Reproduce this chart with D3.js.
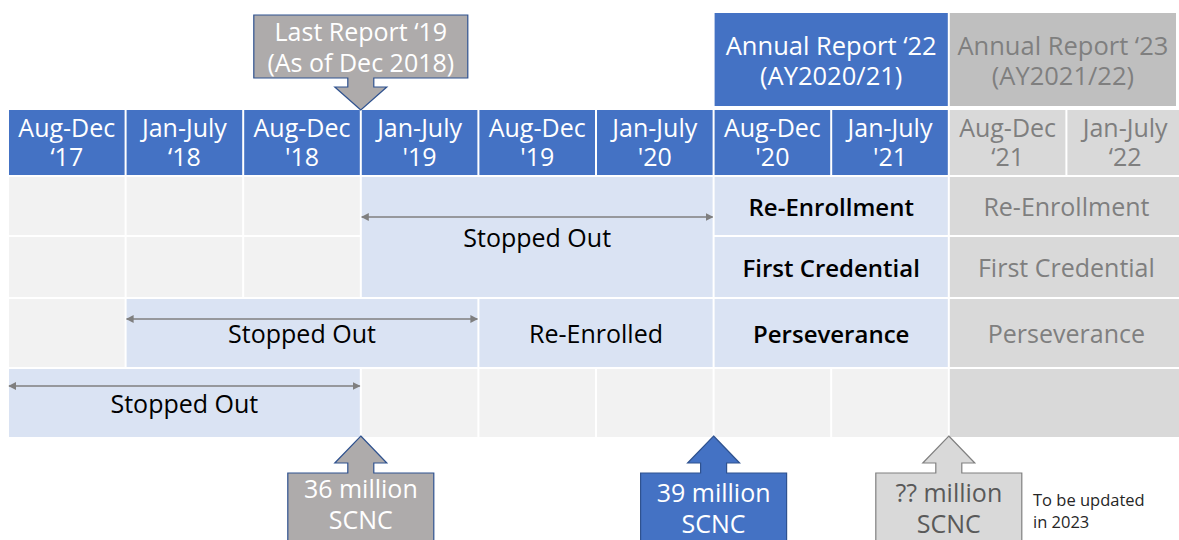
<!DOCTYPE html>
<html>
<head>
<meta charset="utf-8">
<script src="https://d3js.org/d3.v7.min.js"></script>
<style>
  body { margin: 0; background: #fff; }
  svg { display: block; font-family: "Open Sans", sans-serif; }
</style>
</head>
<body>
<script>
// periods along the timeline
var periodNames = ["Aug-Dec", "Jan-July", "Aug-Dec", "Jan-July", "Aug-Dec", "Jan-July", "Aug-Dec", "Jan-July", "Aug-Dec", "Jan-July"];
var periodYears = ["\u201817", "\u201818", "'18", "'19", "'19", "'20", "'20", "'21", "\u201821", "\u201822"];
var periodStatus = ["past", "past", "past", "past", "past", "past", "past", "past", "future", "future"];

// report banners above the header: [first period, last period, status, line 1, line 2]
var reports = [
  [6, 7, "past", "Annual Report \u201822", "(AY2020/21)"],
  [8, 9, "future", "Annual Report \u201823", "(AY2021/22)"]
];

// body cells: [first row, last row, first period, last period, kind, label]
var cells = [
  [0, 0, 0, 0, "base", ""],
  [0, 0, 1, 1, "base", ""],
  [0, 0, 2, 2, "base", ""],
  [0, 1, 3, 5, "gap", "Stopped Out"],
  [0, 0, 6, 7, "measure", "Re-Enrollment"],
  [0, 0, 8, 9, "future", "Re-Enrollment"],
  [1, 1, 0, 0, "base", ""],
  [1, 1, 1, 1, "base", ""],
  [1, 1, 2, 2, "base", ""],
  [1, 1, 6, 7, "measure", "First Credential"],
  [1, 1, 8, 9, "future", "First Credential"],
  [2, 2, 0, 0, "base", ""],
  [2, 2, 1, 3, "gap", "Stopped Out"],
  [2, 2, 4, 5, "span", "Re-Enrolled"],
  [2, 2, 6, 7, "measure", "Perseverance"],
  [2, 2, 8, 9, "future", "Perseverance"],
  [3, 3, 0, 2, "gap", "Stopped Out"],
  [3, 3, 3, 3, "base", ""],
  [3, 3, 4, 4, "base", ""],
  [3, 3, 5, 5, "base", ""],
  [3, 3, 6, 6, "base", ""],
  [3, 3, 7, 7, "base", ""],
  [3, 3, 8, 9, "future", ""]
];

// callouts: [period boundary, direction, status, line 1, line 2]
var callouts = [
  [3, "down", "old", "Last Report \u201819", "(As of Dec 2018)"],
  [3, "up", "old", "36 million", "SCNC"],
  [6, "up", "past", "39 million", "SCNC"],
  [8, "up", "future", "?? million", "SCNC"]
];
var footNote = ["To be updated", "in 2023"];

var width = 1179, height = 540;
var headerTop = 110, headerBottom = 176;
var rowEdges = [176, 236, 298, 368, 438];
var arrowRise = [20, 17, 14, 17];   // how far a span arrow sits above the text, by the span's top row

var colors = {
  blue: "#4472C4", lightBlue: "#DAE3F3", base: "#F2F2F2",
  future: "#D9D9D9", futureBanner: "#BFBFBF", futureText: "#7F7F7F",
  oldCallout: "#AEABAB", outline: "#2F528F", arrow: "#7F7F7F"
};

var svg = d3.select("body").append("svg")
    .attr("width", width)
    .attr("height", height);

var defs = svg.append("defs");
defs.append("marker")
    .attr("id", "head")
    .attr("viewBox", "0 0 10 10")
    .attr("refX", 9).attr("refY", 5)
    .attr("markerWidth", 6).attr("markerHeight", 6)
    .attr("orient", "auto-start-reverse")
  .append("path")
    .attr("d", "M0,0L10,5L0,10Z")
    .attr("fill", colors.arrow);

var x = d3.scaleBand()
    .domain(d3.range(periodNames.length))
    .range([8, 1184])
    .paddingInner(0);

function left(i) { return x(i); }
function right(i) { return x(i) + x.bandwidth(); }

// report banners
var banner = svg.selectAll(".banner")
    .data(reports)
    .enter().append("g")
    .attr("class", "banner");

banner.append("rect")
    .attr("x", function (d) { return left(d[0]) + 1; })
    .attr("y", 13)
    .attr("width", function (d) { return Math.min(right(d[1]), 1177) - left(d[0]) - 2; })
    .attr("height", 93)
    .attr("fill", function (d) { return d[2] === "future" ? colors.futureBanner : colors.blue; });

banner.each(function (d) {
  var cx = (left(d[0]) + Math.min(right(d[1]), 1177)) / 2;
  var t = d3.select(this).append("text")
      .attr("text-anchor", "middle")
      .attr("font-size", 25.5)
      .attr("fill", d[2] === "future" ? colors.futureText : "#fff");
  t.append("tspan").attr("x", cx).attr("y", 55).text(d[3]);
  t.append("tspan").attr("x", cx).attr("y", 85).text(d[4]);
});

// header row
var header = svg.selectAll(".period")
    .data(periodNames.map(function (n, i) { return [n, periodYears[i], periodStatus[i], i]; }))
    .enter().append("g")
    .attr("class", "period");

header.append("rect")
    .attr("x", function (d) { return left(d[3]) + 1; })
    .attr("y", headerTop)
    .attr("width", x.bandwidth() - 2)
    .attr("height", headerBottom - headerTop - 1)
    .attr("fill", function (d) { return d[2] === "future" ? colors.future : colors.blue; });

header.append("text")
    .attr("text-anchor", "middle")
    .attr("font-size", 25)
    .attr("fill", function (d) { return d[2] === "future" ? colors.futureText : "#fff"; })
    .each(function (d) {
      var cx = left(d[3]) + x.bandwidth() / 2;
      d3.select(this).append("tspan").attr("x", cx).attr("y", 137).text(d[0]);
      d3.select(this).append("tspan").attr("x", cx).attr("y", 166).text(d[1]);
    });

// body cells
var fills = { base: colors.base, gap: colors.lightBlue, span: colors.lightBlue, measure: colors.lightBlue, future: colors.future };

var cell = svg.selectAll(".cell")
    .data(cells)
    .enter().append("g")
    .attr("class", "cell");

cell.append("rect")
    .attr("x", function (d) { return left(d[2]) + 1; })
    .attr("y", function (d) { return rowEdges[d[0]] + 1; })
    .attr("width", function (d) { return right(d[3]) - left(d[2]) - 2; })
    .attr("height", function (d) { return rowEdges[d[1] + 1] - rowEdges[d[0]] - 2; })
    .attr("fill", function (d) { return fills[d[4]]; });

cell.filter(function (d) { return d[5]; }).append("text")
    .attr("text-anchor", "middle")
    .attr("dominant-baseline", "central")
    .attr("x", function (d) { return (left(d[2]) + right(d[3])) / 2; })
    .attr("y", function (d) { return (rowEdges[d[0]] + rowEdges[d[1] + 1]) / 2; })
    .attr("font-size", function (d) { return d[4] === "measure" ? 24 : 25; })
    .attr("font-weight", function (d) { return d[4] === "measure" ? 600 : 400; })
    .attr("fill", function (d) { return d[4] === "future" ? colors.futureText : "#000"; })
    .text(function (d) { return d[5]; });

function arrowY(d) { return (rowEdges[d[0]] + rowEdges[d[1] + 1]) / 2 - arrowRise[d[0]]; }

cell.filter(function (d) { return d[4] === "gap"; }).append("line")
    .attr("x1", function (d) { return left(d[2]) + 1; })
    .attr("x2", function (d) { return right(d[3]) - 1; })
    .attr("y1", arrowY)
    .attr("y2", arrowY)
    .attr("stroke", colors.arrow)
    .attr("stroke-width", 1.3)
    .attr("marker-start", "url(#head)")
    .attr("marker-end", "url(#head)");

// callout arrows
var calloutStyle = {
  old: { fill: colors.oldCallout, stroke: colors.outline, text: "#fff" },
  past: { fill: colors.blue, stroke: colors.outline, text: "#fff" },
  future: { fill: colors.future, stroke: "#808080", text: "#595959" }
};

function calloutPath(cx, d) {
  var hw = 26, sw = 13, bw;
  var pts;
  if (d[1] === "down") {
    bw = 107;
    var tip = headerTop, hb = tip - 23, sb = hb - 9, top = 15;
    pts = [[cx, tip], [cx - hw, hb], [cx - sw, hb], [cx - sw, sb], [cx - bw, sb], [cx - bw, top],
           [cx + bw, top], [cx + bw, sb], [cx + sw, sb], [cx + sw, hb], [cx + hw, hb]];
  } else {
    bw = 73;
    var tipU = rowEdges[4] - 2, hbU = tipU + 27, sbU = hbU + 10, bottom = 548;
    pts = [[cx, tipU], [cx + hw, hbU], [cx + sw, hbU], [cx + sw, sbU], [cx + bw, sbU], [cx + bw, bottom],
           [cx - bw, bottom], [cx - bw, sbU], [cx - sw, sbU], [cx - sw, hbU], [cx - hw, hbU]];
  }
  return d3.line()(pts) + "Z";
}

var callout = svg.selectAll(".callout")
    .data(callouts)
    .enter().append("g")
    .attr("class", "callout");

callout.append("path")
    .attr("d", function (d) { return calloutPath(left(d[0]), d); })
    .attr("fill", function (d) { return calloutStyle[d[2]].fill; })
    .attr("stroke", function (d) { return calloutStyle[d[2]].stroke; })
    .attr("stroke-width", 1.2);

callout.append("text")
    .attr("text-anchor", "middle")
    .attr("font-size", 25)
    .attr("fill", function (d) { return calloutStyle[d[2]].text; })
    .each(function (d) {
      var cx = left(d[0]);
      var y0 = d[1] === "down" ? 41 : (d[2] === "old" ? 498 : 502);
      d3.select(this).append("tspan").attr("x", cx).attr("y", y0).text(d[3]);
      d3.select(this).append("tspan").attr("x", cx).attr("y", y0 + 31).text(d[4]);
    });

var note = svg.append("text")
    .attr("font-size", 16.5)
    .attr("fill", "#262626");
note.selectAll("tspan")
    .data(footNote)
    .enter().append("tspan")
    .attr("x", 1033)
    .attr("y", function (d, i) { return 506 + i * 22; })
    .text(function (d) { return d; });
</script>
</body>
</html>
